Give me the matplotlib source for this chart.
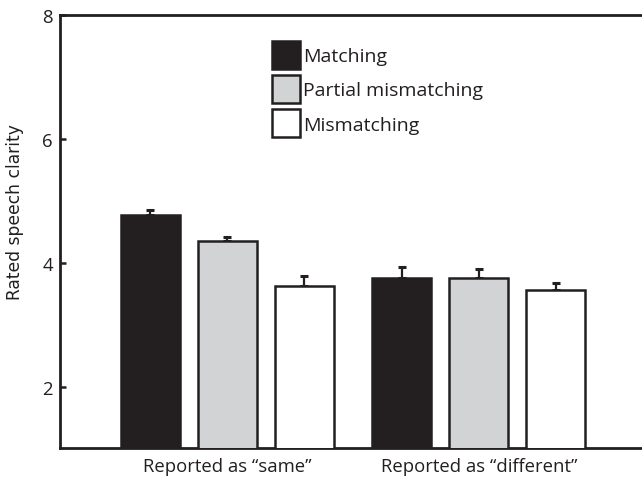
import numpy as np
import matplotlib
matplotlib.use("Agg")
from matplotlib import pyplot as plt

plt.rcParams['font.family'] = ['Open Sans', 'DejaVu Sans']

groups = ['Reported as \u201csame\u201d', 'Reported as \u201cdifferent\u201d']
conditions = ['Matching', 'Partial mismatching', 'Mismatching']
means = {
    'Matching': [4.775, 3.755],
    'Partial mismatching': [4.36, 3.765],
    'Mismatching': [3.63, 3.567],
}
errors = {
    'Matching': [0.08, 0.19],
    'Partial mismatching': [0.065, 0.145],
    'Mismatching': [0.16, 0.12],
}
colors = ['#231f20', '#d1d3d4', '#ffffff']
ink = '#231f20'

fig = plt.figure(figsize=(6.42, 4.81), dpi=100)
ax = fig.add_axes([0.0935, 0.0671, 0.9065, 0.9003])

x = np.arange(len(groups))
offset = 0.306
width = 0.2345
handles = []
for i, cond in enumerate(conditions):
    pos = x + (i - 1) * offset
    ax.errorbar(pos, means[cond], yerr=[np.zeros(len(groups)), errors[cond]],
                fmt='none', ecolor=ink, elinewidth=1.6, capsize=2.9,
                capthick=2.2, zorder=2)
    b = ax.bar(pos, means[cond], width, color=colors[i], edgecolor=ink,
               linewidth=1.8, label=cond, zorder=3)
    handles.append(b)

ax.set_xlim(-0.6645, 1.6486)
ax.set_ylim(1.03, 8)
ax.set_yticks([2, 4, 6, 8])
ax.set_xticks(x)
ax.set_xticklabels(groups)
ax.tick_params(axis='x', length=0, pad=7, labelsize=13.3, colors=ink)
ax.tick_params(axis='y', direction='in', length=4, width=1.8, pad=5,
               labelsize=13.3, colors=ink)

for side in ['left', 'bottom', 'top']:
    ax.spines[side].set_linewidth(2)
    ax.spines[side].set_color(ink)
ax.spines['right'].set_visible(False)

# y label sits a bit above the middle of the axis in the original
fig.text(15 / 642, 1 - 211.7 / 481, 'Rated speech clarity', rotation=90,
         ha='center', va='center', fontsize=12.3, color=ink,
         family=['DejaVu Sans'])

leg = ax.legend(handles=handles, loc='upper left',
                bbox_to_anchor=(271.5 / 642, 1 - 42 / 481),
                bbox_transform=fig.transFigure, frameon=False, borderpad=0,
                borderaxespad=0, handlelength=1.44, handleheight=1.838,
                labelspacing=0.32, handletextpad=0.2, fontsize=14)
for t in leg.get_texts():
    t.set_color(ink)

fig.savefig('out.png', dpi=100)
